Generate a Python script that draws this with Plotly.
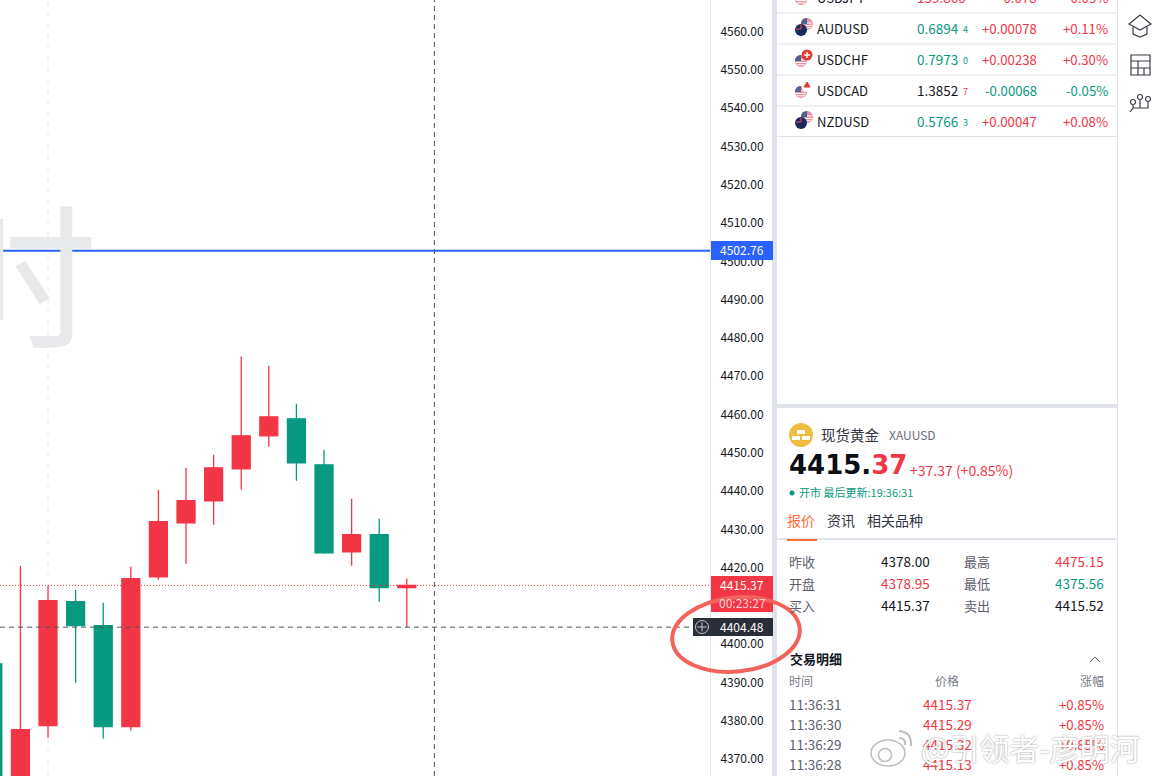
import math
import plotly.graph_objects as go

W, H = 1156, 776
FONT = "Noto Sans CJK SC"
RED = "#F23645"
GREEN = "#089981"
PANEL_LINE = "#E0E3EB"
CROSS = "#50535E"

# candles, oldest first (first two bodies run off the bottom of the screenshot)
candle_x = list(range(16))
opens = [4394.9, 4358.0, 4378.76, 4411.12, 4404.86, 4378.5, 4417.64, 4431.74, 4437.48, 4445.83, 4454.44, 4458.88, 4446.87, 4424.17, 4428.6, 4414.77]
highs = [4394.9, 4420.51, 4415.29, 4414.25, 4410.86, 4420.25, 4440.35, 4446.09, 4449.48, 4475.15, 4472.71, 4462.79, 4450.79, 4438.0, 4432.78, 4417.12]
lows = [4350.0, 4352.0, 4375.56, 4389.98, 4375.4, 4377.46, 4416.86, 4421.04, 4431.21, 4440.35, 4451.57, 4442.7, 4423.65, 4420.51, 4411.12, 4404.48]
closes = [4352.0, 4377.72, 4411.38, 4404.86, 4378.5, 4417.12, 4432.0, 4437.48, 4446.09, 4454.44, 4459.4, 4447.39, 4423.91, 4428.6, 4414.77, 4415.37]

price_ticks = [4370, 4380, 4390, 4400, 4410, 4420, 4430, 4440, 4450, 4460, 4470, 4480, 4490, 4500, 4510, 4520, 4530, 4540, 4550, 4560]
level_blue = 4502.76
last_price = 4415.37
cross_price = 4404.48

# watchlist
pairs = ["AUDUSD", "USDCHF", "USDCAD", "NZDUSD"]
pair_prices = ["0.6894", "0.7973", "1.3852", "0.5766"]
pair_small = ["4", "0", "7", "3"]
pair_changes = ["+0.00078", "+0.00238", "-0.00068", "+0.00047"]
pair_pcts = ["+0.11%", "+0.30%", "-0.05%", "+0.08%"]
pair_price_colors = [GREEN, GREEN, "#131722", GREEN]
pair_small_colors = [GREEN, GREEN, RED, GREEN]
pair_y = [29, 60, 91, 122]

# quote block
stat_left_labels = ["昨收", "开盘", "买入"]
stat_left_values = ["4378.00", "4378.95", "4415.37"]
stat_left_colors = ["#131722", RED, "#131722"]
stat_right_labels = ["最高", "最低", "卖出"]
stat_right_values = ["4475.15", "4375.56", "4415.52"]
stat_right_colors = [RED, GREEN, "#131722"]
stat_y = [562, 584, 606]

# trades
trade_times = ["11:36:31", "11:36:30", "11:36:29", "11:36:28"]
trade_prices = ["4415.37", "4415.29", "4415.32", "4415.13"]
trade_pcts = ["+0.85%", "+0.85%", "+0.85%", "+0.85%"]
trade_y = [705, 725, 745, 765]

annotations = []
shapes = []


def text(x, y, s, size=13, color="#131722", anchor="left", family=FONT, **font_kw):
    # annotations sit about 1px low of the given spot, and left-anchored ones 1px right
    ya = y - 1
    yshift = 0
    if ya < 0:
        # anything off the top gets dropped, so pin to the edge and shift
        yshift = -ya
        ya = 0
    xa = x - 1 if anchor == "left" else x
    annotations.append(dict(
        x=xa, y=ya, xref="x2", yref="y2", text=s, showarrow=False, yshift=yshift,
        xanchor=anchor, yanchor="middle", borderpad=0,
        font=dict(family=family, size=size, color=color, **font_kw),
    ))


def rect(x0, y0, x1, y1, fill):
    shapes.append(dict(type="rect", xref="x2", yref="y2", x0=x0, y0=y0, x1=x1, y1=y1,
                       fillcolor=fill, line=dict(width=0), layer="above"))


def circle(cx, cy, rx, fill="rgba(0,0,0,0)", ry=None, line_color=None, line_width=0):
    ry = rx if ry is None else ry
    shapes.append(dict(type="circle", xref="x2", yref="y2", x0=cx - rx, y0=cy - ry, x1=cx + rx, y1=cy + ry,
                       fillcolor=fill, line=dict(width=line_width, color=line_color), layer="above"))


def path(d, color="#2A2E39", width=1.3, fill="rgba(0,0,0,0)"):
    shapes.append(dict(type="path", xref="x2", yref="y2", path=d, fillcolor=fill,
                       line=dict(width=width, color=color), layer="above"))


def tilted_ring(cx, cy, rx, ry, deg):
    # four bezier quarters, shape paths have no arc command
    k = 0.5523
    a = math.radians(deg)

    def pt(u, v):
        return f"{cx + u * math.cos(a) - v * math.sin(a):.1f},{cy + u * math.sin(a) + v * math.cos(a):.1f}"

    return (f"M{pt(-rx, 0)} C{pt(-rx, -k * ry)} {pt(-k * rx, -ry)} {pt(0, -ry)}"
            f" C{pt(k * rx, -ry)} {pt(rx, -k * ry)} {pt(rx, 0)}"
            f" C{pt(rx, k * ry)} {pt(k * rx, ry)} {pt(0, ry)}"
            f" C{pt(-k * rx, ry)} {pt(-rx, k * ry)} {pt(-rx, 0)} Z")


def us_flag(cx, cy):
    circle(cx, cy, 6, "#E9929B")
    path(f"M{cx-5},{cy+1.5} L{cx+5},{cy+1.5} M{cx-4},{cy+3.8} L{cx+4},{cy+3.8} M{cx-5},{cy-1} L{cx+5},{cy-1}", "#FFFFFF", 1)
    path(f"M{cx-6},{cy} Q{cx-6},{cy-6} {cx},{cy-6} L{cx},{cy} Z", "#4F6196", 0, "#4F6196")


fig = go.Figure()

fig.add_trace(go.Candlestick(
    x=candle_x, open=opens, high=highs, low=lows, close=closes,
    increasing=dict(line=dict(color=RED, width=1.3), fillcolor=RED),
    decreasing=dict(line=dict(color=GREEN, width=1.3), fillcolor=GREEN),
    whiskerwidth=0, xaxis="x", yaxis="y", showlegend=False, hoverinfo="skip",
))
# keeps the pixel-sized overlay axes alive
fig.add_trace(go.Scatter(x=[0], y=[0], xaxis="x2", yaxis="y2", mode="markers",
                         marker=dict(opacity=0), showlegend=False, hoverinfo="skip"))

# chart overlay lines
line_shapes = [
    dict(type="line", xref="x", yref="y domain", x0=2, x1=2, y0=0, y1=1, line=dict(color="#F0F1F3", width=1.5, dash="5px 6px"), layer="below"),
    dict(type="line", xref="x domain", yref="y", x0=0, x1=1, y0=level_blue, y1=level_blue, line=dict(color="#2962FF", width=2), layer="above"),
    dict(type="line", xref="x domain", yref="y", x0=0, x1=1, y0=last_price, y1=last_price, line=dict(color=RED, width=1, dash="1px 2px"), layer="above"),
    dict(type="line", xref="x domain", yref="y", x0=0, x1=1, y0=cross_price, y1=cross_price, line=dict(color=CROSS, width=1, dash="5px 4px"), layer="above"),
    dict(type="line", xref="x", yref="y domain", x0=16, x1=16, y0=0, y1=1, line=dict(color=CROSS, width=1, dash="5px 4px"), layer="above"),
]
shapes.extend(line_shapes)

# watermark of the timeframe, mostly cut off by the left edge
text(98, 269, "时", size=155, color="#E8E9EB", anchor="right")

# panel frame
rect(772, 0, 777, H, PANEL_LINE)
rect(1117, 0, 1118, H, PANEL_LINE)
rect(777, 404, 1117, 408, PANEL_LINE)
rect(777, 538, 1117, 540, PANEL_LINE)
rect(787, 539, 817, 541, "#FF6B35")
for row_y in [12.5, 43.5, 74.5, 105.5, 136]:
    rect(777, row_y, 1117, row_y + 1, PANEL_LINE)

# price badges
rect(711, 241, 773, 260, "#2962FF")
text(742, 250.5, "4502.76", size=12, color="#FFFFFF", anchor="center")
rect(711, 576, 773, 612, RED)
text(742, 585, "4415.37", size=12, color="#FFFFFF", anchor="center")
text(742, 603, "00:23:27", size=12, color="#FFD5D9", anchor="center")
rect(693, 618, 773, 636, "#2A2E39")
circle(702, 627, 6.5, line_color="#C9CBD2", line_width=1)
path("M702,622.5 L702,631.5 M697.5,627 L706.5,627", "#C9CBD2", 1)
text(742, 627, "4404.48", size=12, color="#FFFFFF", anchor="center")

# hand-drawn red ring
path(tilted_ring(736, 634.5, 64, 37, -6), "#F2635C", 4)

# top cropped row
us_flag(801, -1)
text(817, -2, "USDJPY", size=13)
text(917, -2, "159.860", size=13.5, color=RED)
text(1038, -2, "-0.078", size=13.2, color=RED, anchor="right")
text(1109, -2, "-0.05%", size=13.2, color=RED, anchor="right")

# watchlist rows
for i, name in enumerate(pairs):
    y = pair_y[i]
    if name in ("AUDUSD", "NZDUSD"):
        us_flag(807, y - 5)
        circle(801, y + 1, 6, "#1B2A5E")
        path(f"M796,{y} L801,{y} M801,{y-4} L801,{y}", "#E8505B", 1)
    else:
        us_flag(801, y + 1)
        if name == "USDCHF":
            circle(807, y - 5, 5.5, "#E03A32")
            path(f"M804,{y-5} L810,{y-5} M807,{y-8} L807,{y-2}", "#FFFFFF", 1.5)
        else:
            circle(807, y - 5, 5.5, "#FFFFFF")
            path(f"M807,{y-9} L810,{y-4} L804,{y-4} Z", "#E03A32", 1, "#E03A32")
    change_color = GREEN if pair_changes[i].startswith("-") else RED
    text(817, y, name, size=13)
    text(917, y, pair_prices[i], size=13.5, color=pair_price_colors[i])
    text(963, y + 1, pair_small[i], size=9, color=pair_small_colors[i])
    text(1038, y, pair_changes[i], size=13.2, color=change_color, anchor="right")
    text(1109, y, pair_pcts[i], size=13.2, color=change_color, anchor="right")

# side toolbar icons
path("M1129,24 L1140,15 L1151,24 L1140,30 Z M1133,27 L1133,34 L1140,37 L1147,34 L1147,27", "#3A3D47", 1.2)
path("M1131,55 L1150,55 L1150,75 L1131,75 Z M1131,61 L1150,61 M1131,68 L1150,68 M1138,61 L1138,75 M1144,68 L1144,75", "#3A3D47", 1.2)
for cx, cy in [(1133, 102), (1140, 97), (1148, 99)]:
    circle(cx, cy, 2.5, line_color="#3A3D47", line_width=1.1)
path("M1130,112 L1133,108 L1133,105 M1133,108 L1140,108 L1140,100 M1140,108 L1148,108 L1148,102", "#3A3D47", 1.2)

# quote header
circle(801, 435, 12, "#F0BD40")
rect(797, 430, 805, 434, "#FFFFFF")
rect(792, 436, 800, 440, "#FFFFFF")
rect(802, 436, 810, 440, "#FFFFFF")
text(821, 435, "现货黄金", size=14.5, color="#333642")
text(889, 435, "XAUUSD", size=12, color="#6A6D78")
text(789, 466, f"<b>4415.<span style='color:{RED}'>37</span></b>", size=26, color="#0B0E14", family="DejaVu Sans")
text(910, 471, "+37.37 (+0.85%)", size=14, color=RED)
circle(792, 493, 2.5, GREEN)
text(799, 493, "开市 最后更新:19:36:31", size=11, color=GREEN)
text(787, 521, "报价", size=14, color="#FF6B35")
text(827, 521, "资讯", size=14, color="#333642")
text(867, 521, "相关品种", size=14, color="#333642")

# quote stats
for i, y in enumerate(stat_y):
    text(789, y, stat_left_labels[i], size=13, color="#5D606B")
    text(931, y, stat_left_values[i], size=13.5, color=stat_left_colors[i], anchor="right")
    text(964, y, stat_right_labels[i], size=13, color="#5D606B")
    text(1105, y, stat_right_values[i], size=13.5, color=stat_right_colors[i], anchor="right")

# trades table
text(790, 659, "<b>交易明细</b>", size=13, color="#131722")
path("M1090,662 L1095,657 L1100,662", "#5D606B", 1)
text(789, 681, "时间", size=12, color="#787B86")
text(947, 681, "价格", size=12, color="#787B86", anchor="center")
text(1105, 681, "涨幅", size=12, color="#787B86", anchor="right")
for i, y in enumerate(trade_y):
    text(789, y, trade_times[i], size=13.5, color="#5D606B")
    text(947, y, trade_prices[i], size=13.5, color=RED, anchor="center")
    text(1105, y, trade_pcts[i], size=13.2, color=RED, anchor="right")

# weibo mark
circle(888, 753, 17, "rgba(255,255,255,0.85)", ry=13, line_color="#BDBDBD", line_width=1.5)
circle(885, 755, 6.5, "rgba(255,255,255,0.9)", line_color="#BDBDBD", line_width=1.5)
path("M899,731 Q912,732 911,746 M899,738 Q906,738 905,745", "#BDBDBD", 2)
text(921, 748, "@引领者-彦明河", size=30, color="#FFFFFF", shadow="0 0 2px #8A8A8A")

fig.update_layout(
    width=W, height=H,
    margin=dict(l=0, r=0, t=0, b=0),
    paper_bgcolor="#FFFFFF", plot_bgcolor="rgba(0,0,0,0)",
    boxgap=0.35, boxgroupgap=0,
    shapes=shapes, annotations=annotations,
    showlegend=False,
    xaxis=dict(domain=[0, 710 / W], range=[0.26, 0.26 + 710 / 27.6], visible=False,
               rangeslider=dict(visible=False), anchor="y"),
    yaxis=dict(range=[4365.6, 4568.26], side="right", anchor="x", tickmode="array",
               tickvals=price_ticks, tickformat=".2f", showgrid=False, zeroline=False,
               showline=True, linecolor=PANEL_LINE, linewidth=1, ticks="", ticklabelstandoff=7,
               tickfont=dict(family=FONT, size=12, color="#131722")),
    xaxis2=dict(domain=[0, 1], range=[0, W], visible=False, anchor="y2"),
    yaxis2=dict(domain=[0, 1], range=[H, 0], visible=False, anchor="x2"),
)

fig.write_html("out.html", config=dict(displayModeBar=False),
               post_script="document.body.style.margin='0';")
